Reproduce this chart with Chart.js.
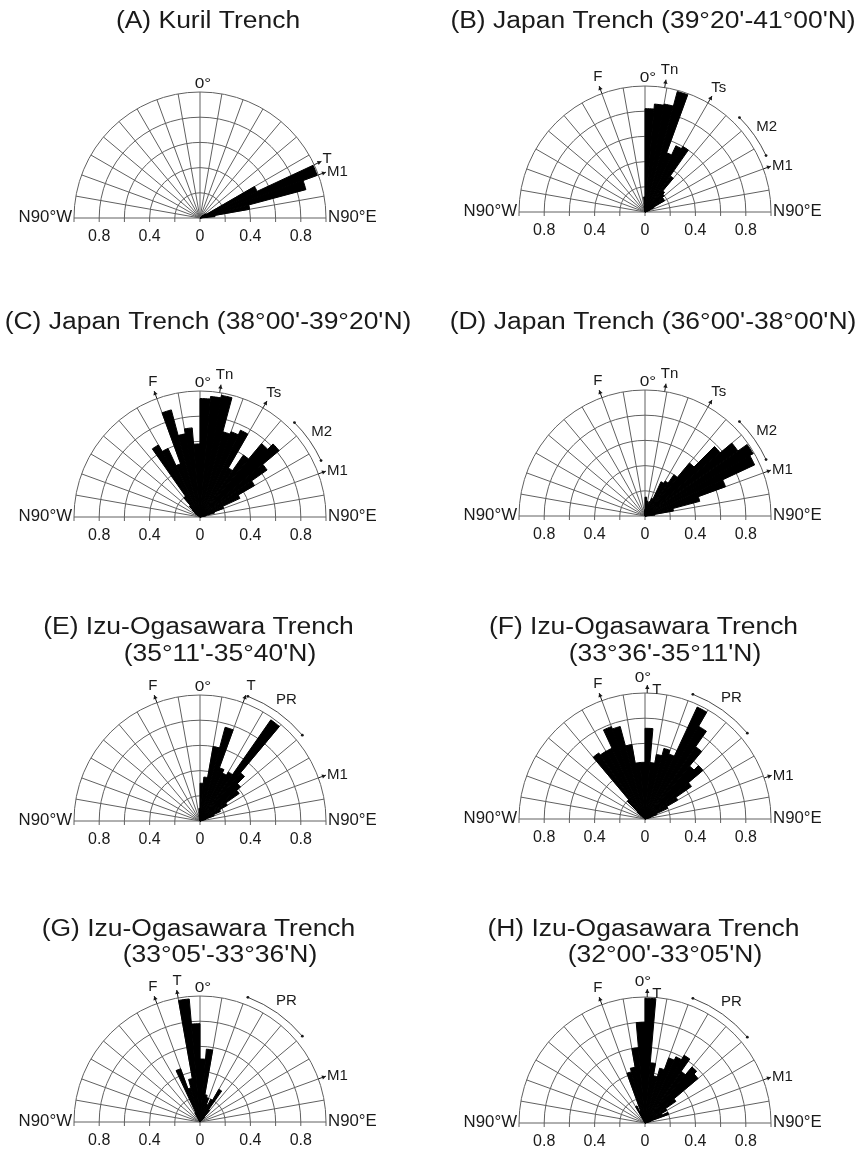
<!DOCTYPE html>
<html>
<head>
<meta charset="utf-8">
<script src="https://cdn.jsdelivr.net/npm/chart.js@4.4.1/dist/chart.umd.min.js"></script>
<style>
  html, body { margin: 0; padding: 0; background: #fff; overflow: hidden; }
  #wrap { position: relative; width: 857px; height: 1151px; overflow: hidden; }
  #wrap canvas { position: absolute; }
</style>
</head>
<body>
<div id="wrap"></div>
<script>
// 5° bins, start angle of each bin (degrees from north, + = east)
const binStarts = [-90,-85,-80,-75,-70,-65,-60,-55,-50,-45,-40,-35,-30,-25,-20,-15,-10,-5,
                   0,5,10,15,20,25,30,35,40,45,50,55,60,65,70,75,80,85];

// relative frequency per bin
const kurilA  = [0,0,0,0,0,0,0,0,0,0, 0,0,0,0,0,0,0,0, 0,0,0,0,0,0,0,0,0, 0.03,0.05,0.06,0.5,0.99,0.87,0.4,0.12,0];
const japanB  = [0,0,0,0,0,0,0,0,0,0,0,0,0,0,0,0, 0.05,0.12, 0.82,0.86,0.87,0.99,0.5,0.58,0.6,0.35,0.22,0.2,0.18,0.18,0.08,0.04,0,0,0,0];
const japanC  = [0,0,0,0,0,0,0, 0.05,0.08,0.12, 0.2,0.66,0.6,0.45,0.88,0.67,0.71,0.58, 0.94,0.96,0.98,0.7,0.72,0.76,0.45,0.6,0.76, 0.82,0.65,0.5,0.35,0.2,0.12,0.05,0,0];
const japanD  = [0,0,0,0,0,0,0,0,0,0,0,0,0,0,0,0,0, 0.05, 0.15,0.12,0.1,0.12,0.15,0.3,0.32,0.4,0.55, 0.78,0.9,0.99,0.96,0.68,0.45,0.23,0.08,0];
const izuE    = [0,0,0,0,0,0,0,0,0,0,0,0,0,0,0,0, 0.05,0.1, 0.3,0.35,0.6,0.77,0.45,0.42,0.45,0.98,0.5, 0.42,0.38,0.25,0.18,0.12,0.05,0,0,0];
const izuF    = [0,0,0,0,0,0,0,0, 0.08,0.2, 0.64,0.62,0.62,0.78,0.76,0.6,0.45,0.45, 0.72,0.45,0.52,0.58,0.55,0.98,0.85,0.7,0.55, 0.6,0.45,0.3,0.2,0.1,0.05,0,0,0];
const izuG    = [0,0,0,0,0,0,0,0,0,0,0,0, 0.08,0.45,0.28,0.35,0.98,0.78, 0.5,0.58,0.22,0.2,0.15,0.2,0.3,0.12,0.05, 0,0,0,0,0,0,0,0,0];
const izuH    = [0,0,0,0,0,0,0,0,0,0,0,0, 0.15,0.1,0.42,0.45,0.6,0.8, 0.99,0.48,0.38,0.45,0.55,0.58,0.62,0.5,0.58, 0.55,0.3,0.2,0.15,0.2,0.05,0,0,0];

// directions marked round the rim
const marksA = ['T', 'M1'];             const markAnglesA = [65, 70];
const marksJ = ['F', 'Tn', 'Ts', 'M1']; const markAnglesB = [-20, 9, 30, 70];
const markAnglesC = [-20, 9, 30, 70];
const markAnglesD = [-20, 9, 30, 70];
const marksI = ['F', 'T', 'M1'];
const markAnglesE = [-20, 20, 70];
const markAnglesF = [-20, 1, 71];
const markAnglesG = [-20, -10, 70];
const markAnglesH = [-20, 1, 70];
const rangeM2 = [45, 65];
const rangePR = [21, 50];

const titles = [
  ['(A) Kuril Trench'],
  ["(B) Japan Trench (39°20'-41°00'N)"],
  ["(C) Japan Trench (38°00'-39°20'N)"],
  ["(D) Japan Trench (36°00'-38°00'N)"],
  ['(E) Izu-Ogasawara Trench', "(35°11'-35°40'N)"],
  ['(F) Izu-Ogasawara Trench', "(33°36'-35°11'N)"],
  ['(G) Izu-Ogasawara Trench', "(33°05'-33°36'N)"],
  ['(H) Izu-Ogasawara Trench', "(32°00'-33°05'N)"]
];

const ringValues = [0.2, 0.4, 0.6, 0.8, 1.0];
const spokeAngles = [-80,-70,-60,-50,-40,-30,-20,-10,0,10,20,30,40,50,60,70,80];
const tickValues = [-1, -0.8, -0.6, -0.4, -0.2, 0, 0.2, 0.4, 0.6, 0.8, 1];
const tickLabelValues = [-0.8, -0.4, 0, 0.4, 0.8];
const tickLabels = ['0.8', '0.4', '0', '0.4', '0.8'];

const panels = [
  { data: kurilA, marks: marksA, angles: markAnglesA, range: null },
  { data: japanB, marks: marksJ, angles: markAnglesB, range: ['M2', rangeM2] },
  { data: japanC, marks: marksJ, angles: markAnglesC, range: ['M2', rangeM2] },
  { data: japanD, marks: marksJ, angles: markAnglesD, range: ['M2', rangeM2] },
  { data: izuE, marks: marksI, angles: markAnglesE, range: ['PR', rangePR] },
  { data: izuF, marks: marksI, angles: markAnglesF, range: ['PR', rangePR] },
  { data: izuG, marks: marksI, angles: markAnglesG, range: ['PR', rangePR] },
  { data: izuH, marks: marksI, angles: markAnglesH, range: ['PR', rangePR] }
];

// page layout: rose centre x, y and title line y (page pixels)
const centres = [[200, 218], [645, 212], [200, 517], [645, 516], [200, 821], [645, 819], [200, 1122], [645, 1123]];
const titleRows = [[22], [22], [323], [323], [628, 655], [628, 655], [930, 956], [930, 956]];
const RAD = 126, CW = 430, CH = 341, OFF = 215;
const INK = '#1a1a1a';

function txt(ctx, s, x, y, size, align, sx) {
  ctx.save();
  ctx.font = size + 'px "Liberation Sans", Arial, sans-serif';
  ctx.fillStyle = INK;
  ctx.textBaseline = 'middle';
  ctx.textAlign = align || 'center';
  ctx.translate(x, y);
  ctx.scale(sx || 1, 1);
  ctx.fillText(s, 0, 0);
  ctx.restore();
}

// compass angle -> canvas point
function polar(cx, cy, r, deg) {
  const t = deg * Math.PI / 180;
  return [cx + r * Math.sin(t), cy - r * Math.cos(t)];
}

const roseDecor = {
  id: 'roseDecor',
  beforeDatasetsDraw(chart) {
    const ctx = chart.ctx, s = chart.scales.r;
    const cx = s.xCenter, cy = s.yCenter;
    const R = s.getDistanceFromCenterForValue(1);
    ctx.save();
    ctx.strokeStyle = '#606060';
    ctx.lineWidth = 1;
    ringValues.forEach(v => {
      ctx.beginPath();
      ctx.arc(cx, cy, s.getDistanceFromCenterForValue(v), Math.PI, 2 * Math.PI);
      ctx.stroke();
    });
    spokeAngles.forEach(a => {
      const [x, y] = polar(cx, cy, R, a);
      ctx.beginPath();
      ctx.moveTo(cx, cy);
      ctx.lineTo(x, y);
      ctx.stroke();
    });
    ctx.beginPath();
    ctx.moveTo(cx - R, cy);
    ctx.lineTo(cx + R, cy);
    ctx.stroke();
    tickValues.forEach(v => {
      const x = cx + Math.sign(v) * s.getDistanceFromCenterForValue(Math.abs(v));
      ctx.beginPath();
      ctx.moveTo(x, cy);
      ctx.lineTo(x, cy + 4);
      ctx.stroke();
    });
    ctx.restore();
  },
  afterDatasetsDraw(chart, args, opts) {
    const ctx = chart.ctx, s = chart.scales.r;
    const cx = s.xCenter, cy = s.yCenter;
    const R = s.getDistanceFromCenterForValue(1);
    const i = opts.index;
    const p = panels[i];
    const t = titles[i];
    const rows = titleRows[i];
    const shift = cy - centres[i][1];

    // titles
    if (t.length === 1) {
      txt(ctx, t[0], cx + 8, rows[0] + shift, 23, 'center', 1.15);
    } else {
      txt(ctx, t[0], cx - 1.5, rows[0] + shift, 23, 'center', 1.15);
      txt(ctx, t[1], cx + 20, rows[1] + shift, 23, 'center', 1.15);
    }

    // axis labels
    txt(ctx, 'N90°W', cx - R - 2, cy, 16, 'right', 1.05);
    txt(ctx, 'N90°E', cx + R + 2, cy, 16, 'left', 1.05);
    tickLabelValues.forEach((v, k) => {
      const x = cx + Math.sign(v) * s.getDistanceFromCenterForValue(Math.abs(v));
      txt(ctx, tickLabels[k], x, cy + 19, 16);
    });

    const nearZero = p.angles.some(a => Math.abs(a) < 4);
    if (nearZero) txt(ctx, '0°', cx - 2, cy - R - 15, 15, 'center', 1.15);
    else txt(ctx, '0°', cx + 3, cy - R - 8, 15, 'center', 1.15);

    // marked directions
    ctx.save();
    ctx.strokeStyle = INK;
    ctx.fillStyle = INK;
    ctx.lineWidth = 1;
    p.angles.forEach((a, k) => {
      const [x0, y0] = polar(cx, cy, R, a);
      const [x1, y1] = polar(cx, cy, R + 8, a);
      const [xb, yb] = polar(cx, cy, R + 4, a);
      const rad = a * Math.PI / 180;
      const px = Math.cos(rad) * 2.2, py = Math.sin(rad) * 2.2;
      ctx.beginPath();
      ctx.moveTo(x0, y0);
      ctx.lineTo(x1, y1);
      ctx.stroke();
      ctx.beginPath();
      ctx.moveTo(x1, y1);
      ctx.lineTo(xb + px, yb + py);
      ctx.lineTo(xb - px, yb - py);
      ctx.closePath();
      ctx.fill();
      const name = p.marks[k];
      if (Math.abs(a) < 4) {
        txt(ctx, name, x1 + 5, y1 + 5, 15, 'left');
      } else if (a >= 60) {
        txt(ctx, name, x1 + 1, y1 + (a < 68 ? -3 : 0), 15, 'left');
      } else {
        const [lx, ly] = polar(cx, cy, R * 1.14, a);
        txt(ctx, name, lx + 2, ly, 15);
      }
    });

    // range arc
    if (p.range) {
      const [name, span] = p.range;
      const rr = R * 1.06;
      const a0 = (span[0] - 90) * Math.PI / 180, a1 = (span[1] - 90) * Math.PI / 180;
      ctx.lineWidth = 0.8;
      ctx.beginPath();
      ctx.arc(cx, cy, rr, a0, a1);
      ctx.stroke();
      span.forEach(a => {
        const [x, y] = polar(cx, cy, rr, a);
        ctx.beginPath();
        ctx.arc(x, y, 1.4, 0, 2 * Math.PI);
        ctx.fill();
      });
      const [lx, ly] = polar(cx, cy, R * 1.18, (span[0] + span[1]) / 2);
      txt(ctx, name, lx, ly, 15);
    }
    ctx.restore();
  }
};

const wrap = document.getElementById('wrap');
panels.forEach((p, i) => {
  const [cx, cy] = centres[i];
  const cv = document.createElement('canvas');
  cv.width = CW;
  cv.height = CH;
  cv.style.width = CW + 'px';
  cv.style.height = CH + 'px';
  cv.style.left = (cx - OFF) + 'px';
  cv.style.top = (cy - OFF) + 'px';
  wrap.appendChild(cv);

  new Chart(cv, {
    type: 'polarArea',
    data: {
      labels: binStarts.map(String),
      datasets: [{
        data: p.data,
        backgroundColor: '#000',
        borderColor: '#000',
        borderWidth: 1,
        angle: 5
      }]
    },
    options: {
      responsive: false,
      animation: false,
      events: [],
      layout: { padding: { left: OFF - RAD, right: CW - OFF - RAD, top: OFF - RAD, bottom: CH - OFF - RAD } },
      plugins: {
        legend: { display: false },
        tooltip: { enabled: false },
        roseDecor: { index: i }
      },
      scales: {
        r: {
          min: 0,
          max: 1,
          startAngle: -90,
          grid: { display: false },
          angleLines: { display: false },
          ticks: { display: false },
          pointLabels: { display: false }
        }
      }
    },
    plugins: [roseDecor]
  });
});
</script>
</body>
</html>
